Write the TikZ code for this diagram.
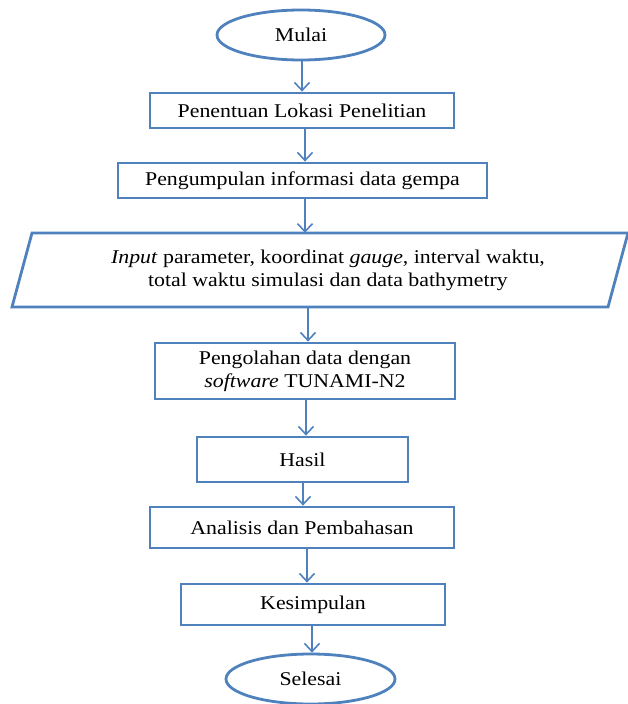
\documentclass[tikz,border=0pt]{standalone}
\usepackage{fontspec}
\setmainfont{Liberation Serif}[FakeStretch=1.12]
\usetikzlibrary{shapes.geometric,arrows.meta,calc}
\definecolor{lb}{RGB}{79,129,189}
\begin{document}
\begin{tikzpicture}[x=1pt,y=-1pt,
  every node/.style={font=\fontsize{19.5}{23}\selectfont, align=center, text=black},
  boxline/.style={draw=lb, line width=2.8pt, line join=miter},
  procbox/.style={rectangle, boxline, inner sep=0pt},
  term/.style={ellipse, boxline, inner sep=0pt, minimum width=168pt, minimum height=50pt},
  arr/.style={draw=lb, line width=1.6pt, -{Straight Barb[length=8pt,width=15pt]}}]
\useasboundingbox (0,0) rectangle (628,704);
\node[term] (m) at (301,35) {Mulai};
\node[procbox, minimum width=304pt, minimum height=35pt] (b1) at (302,110.5) {Penentuan Lokasi Penelitian};
\node[procbox, minimum width=369pt, minimum height=35pt] (b2) at (302.5,180.5) {Pengumpulan informasi data gempa};
\node[inner sep=0pt, minimum height=74pt] (inp) at (328,270) {\textit{Input} parameter, koordinat \textit{gauge}, interval waktu,\\ total waktu simulasi dan data bathymetry};
\draw[boxline] ($(inp.center)+(-296,-37)$) -- ($(inp.center)+(300,-37)$) -- ($(inp.center)+(280,37)$) -- ($(inp.center)+(-316,37)$) -- cycle;
\node[procbox, minimum width=300pt, minimum height=56pt] (b3) at (305,371) {Pengolahan data dengan\\ \textit{software} TUNAMI-N2};
\node[procbox, minimum width=211pt, minimum height=45pt] (b4) at (302.5,459.5) {Hasil};
\node[procbox, minimum width=304pt, minimum height=41pt] (b5) at (302,527.5) {Analisis dan Pembahasan};
\node[procbox, minimum width=264pt, minimum height=41pt] (b6) at (313,604.5) {Kesimpulan};
\node[term, minimum width=169pt] (s) at (310.5,679) {Selesai};
\draw[arr] (m.south -| 302,0) -- (b1.north -| 302,0);
\draw[arr] (b1.south -| 305,0) -- (b2.north -| 305,0);
\draw[arr] (b2.south -| 305,0) -- (inp.north -| 305,0);
\draw[arr] (inp.south -| 308,0) -- (b3.north -| 308,0);
\draw[arr] (b3.south -| 306,0) -- (b4.north -| 306,0);
\draw[arr] (b4.south -| 303,0) -- (b5.north -| 303,0);
\draw[arr] (b5.south -| 307,0) -- (b6.north -| 307,0);
\draw[arr] (b6.south -| 312,0) -- (s.north -| 312,0);
\end{tikzpicture}
\end{document}
